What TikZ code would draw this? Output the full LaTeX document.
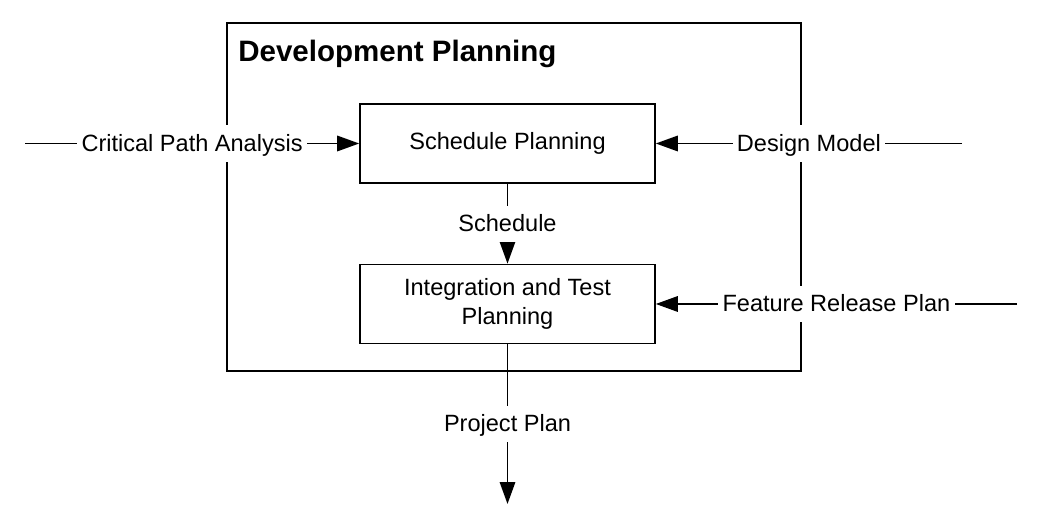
\documentclass[tikz,border=0pt]{standalone}
\usepackage{fontspec}
\setmainfont{Liberation Sans}
\usepackage{tikz}
\usetikzlibrary{arrows.meta,positioning,calc}

\begin{document}
\begin{tikzpicture}[
    x=0.02cm, y=-0.02cm,
    font=\fontsize{13.4}{16.5}\selectfont,
    frame/.style={rectangle, draw, line width=0.95pt, minimum width=11.48cm, minimum height=6.96cm},
    task/.style={rectangle, draw, line width=0.95pt, minimum width=5.9cm, minimum height=1.58cm, align=center},
    title/.style={font=\fontsize{16.8}{20}\selectfont\bfseries, inner sep=0pt},
    flow/.style={pos=0.5, fill=white, inner xsep=2.5pt, inner ysep=5pt, text height=9.6pt, text depth=1pt},
    line/.style={draw, line width=0.95pt, -{Triangle[length=0.44cm, width=0.31cm]}}
]
    \useasboundingbox (0,0) rectangle (1039,516);

    \node [frame] (dev) at (514,197) {};
    \node [title, anchor=base west] (devtitle) at (238,62) {Development Planning};

    \node [task] (sched) at (507.5,143.5) {Schedule Planning};
    \node [task] (integ) at (507.5,304) {Integration and Test\\Planning};

    \coordinate (cpaIn) at (25,143.5);
    \coordinate (dmIn) at (962,143.5);
    \coordinate (frpIn) at (1017,304);
    \coordinate (planOut) at (507.5,504);

    \draw [line] (cpaIn) -- node [flow] (cpa) {Critical Path Analysis} (sched.west);
    \draw [line] (dmIn) -- node [flow] (dm) {Design Model} (sched.east);
    \draw [line] (frpIn) -- node [flow] (frp) {Feature Release Plan} (integ.east);
    \draw [line] (sched.south) -- node [flow] (schedout) {Schedule} (integ.north);
    \draw [line] (integ.south) -- node [flow] (plan) {Project Plan} (planOut);
\end{tikzpicture}
\end{document}
